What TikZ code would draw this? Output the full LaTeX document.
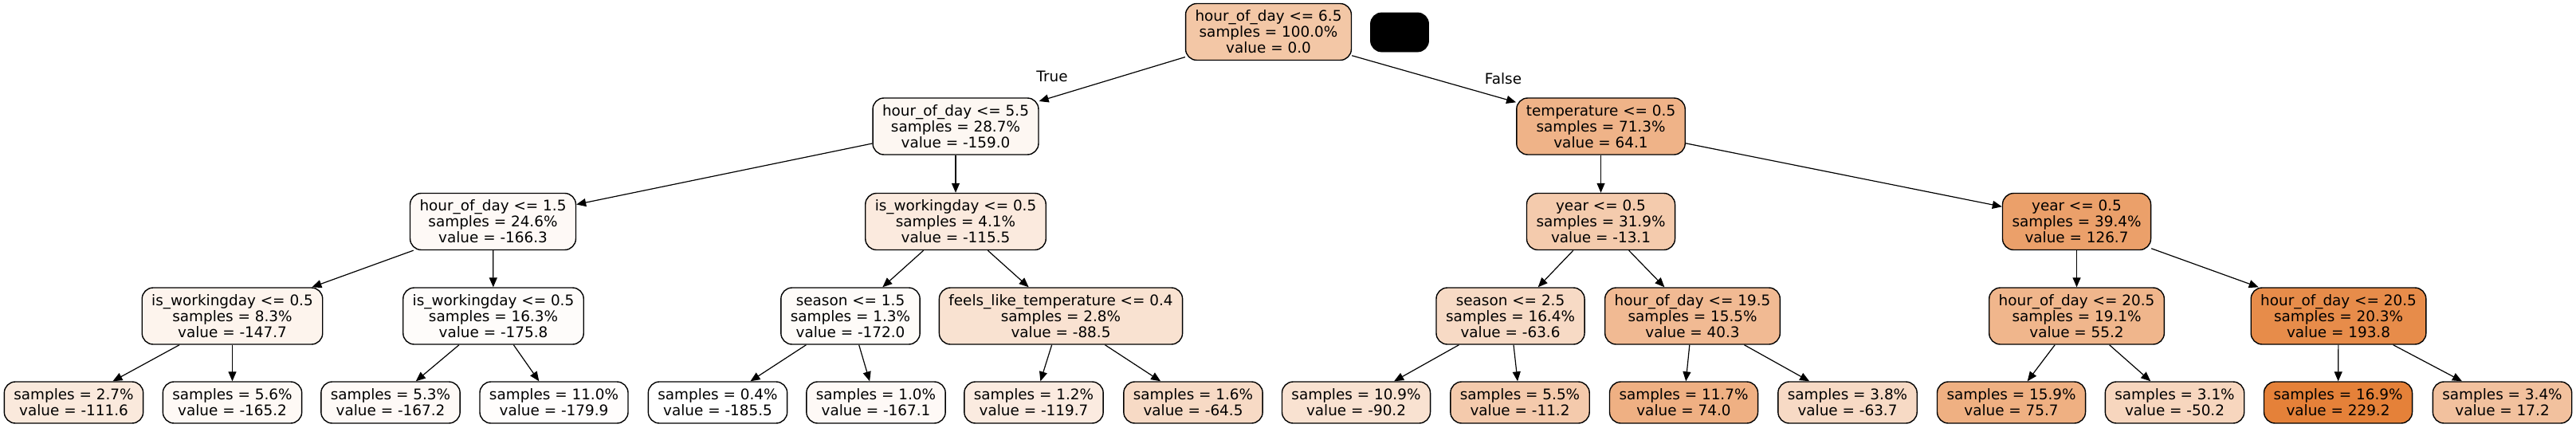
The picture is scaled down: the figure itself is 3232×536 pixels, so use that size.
\documentclass[tikz,border=0pt]{standalone}
\usepackage{fontspec}
\setmainfont{DejaVu Sans}
\usepackage{xcolor}
\usetikzlibrary{arrows.meta}
\definecolor{treeorange}{RGB}{229,129,57}

\begin{document}
\begin{tikzpicture}[
  x=0.5pt, y=-0.5pt,
  split/.style={draw, rounded corners=7pt, align=center, font=\fontsize{9.2pt}{10pt}\selectfont,
    inner xsep=6pt, inner ysep=2pt, minimum height=35.5pt, line width=0.7pt},
  leaf/.style={split, minimum height=26pt},
  arr/.style={-{Triangle[length=6pt,width=5pt]}, line width=0.6pt},
  edgelbl/.style={font=\fontsize{9.2pt}{10pt}\selectfont, inner sep=0pt}
]
\useasboundingbox (0,0) rectangle (3232,536);

% level 0
\node[split, fill=treeorange!44.7!white] (root) at (1591.5,40) {hour\_of\_day <= 6.5\\samples = 100.0\%\\value = 0.0};
\node[draw, fill=black, rounded corners=7pt, minimum width=36.5pt, minimum height=24.5pt, inner sep=0pt] (legend) at (1756,40.5) {};

% level 1
\node[split, fill=treeorange!6.4!white] (h55) at (1199,158.5) {hour\_of\_day <= 5.5\\samples = 28.7\%\\value = -159.0};
\node[split, fill=treeorange!60.2!white] (temp) at (2008.5,158.5) {temperature <= 0.5\\samples = 71.3\%\\value = 64.1};

% level 2
\node[split, fill=treeorange!4.6!white] (h15) at (618.5,278) {hour\_of\_day <= 1.5\\samples = 24.6\%\\value = -166.3};
\node[split, fill=treeorange!16.9!white] (isw41) at (1199,278) {is\_workingday <= 0.5\\samples = 4.1\%\\value = -115.5};
\node[split, fill=treeorange!41.6!white] (yr319) at (2008.5,278) {year <= 0.5\\samples = 31.9\%\\value = -13.1};
\node[split, fill=treeorange!75.3!white] (yr394) at (2605.5,278) {year <= 0.5\\samples = 39.4\%\\value = 126.7};

% level 3
\node[split, fill=treeorange!9.1!white] (isw83) at (291.5,396.5) {is\_workingday <= 0.5\\samples = 8.3\%\\value = -147.7};
\node[split, fill=treeorange!2.3!white] (isw163) at (619,396.5) {is\_workingday <= 0.5\\samples = 16.3\%\\value = -175.8};
\node[split, fill=treeorange!3.3!white] (ssn15) at (1067,396.5) {season <= 1.5\\samples = 1.3\%\\value = -172.0};
\node[split, fill=treeorange!23.4!white] (feels) at (1331,396.5) {feels\_like\_temperature <= 0.4\\samples = 2.8\%\\value = -88.5};
\node[split, fill=treeorange!29.4!white] (ssn25) at (1895,396.5) {season <= 2.5\\samples = 16.4\%\\value = -63.6};
\node[split, fill=treeorange!54.4!white] (h195) at (2123.5,396.5) {hour\_of\_day <= 19.5\\samples = 15.5\%\\value = 40.3};
\node[split, fill=treeorange!58.0!white] (h205a) at (2605.5,396.5) {hour\_of\_day <= 20.5\\samples = 19.1\%\\value = 55.2};
\node[split, fill=treeorange!91.5!white] (h205b) at (2934,396.5) {hour\_of\_day <= 20.5\\samples = 20.3\%\\value = 193.8};

% leaves
\node[leaf, fill=treeorange!17.8!white] (lf1) at (92.5,505) {samples = 2.7\%\\value = -111.6};
\node[leaf, fill=treeorange!4.9!white] (lf2) at (291.5,505) {samples = 5.6\%\\value = -165.2};
\node[leaf, fill=treeorange!4.4!white] (lf3) at (490,505) {samples = 5.3\%\\value = -167.2};
\node[leaf, fill=treeorange!1.4!white] (lf4) at (695,505) {samples = 11.0\%\\value = -179.9};
\node[leaf, fill=white] (lf5) at (900.5,505) {samples = 0.4\%\\value = -185.5};
\node[leaf, fill=treeorange!4.4!white] (lf6) at (1099,505) {samples = 1.0\%\\value = -167.1};
\node[leaf, fill=treeorange!15.9!white] (lf7) at (1297,505) {samples = 1.2\%\\value = -119.7};
\node[leaf, fill=treeorange!29.2!white] (lf8) at (1497,505) {samples = 1.6\%\\value = -64.5};
\node[leaf, fill=treeorange!23.0!white] (lf9) at (1701.5,505) {samples = 10.9\%\\value = -90.2};
\node[leaf, fill=treeorange!42.0!white] (lf10) at (1907,505) {samples = 5.5\%\\value = -11.2};
\node[leaf, fill=treeorange!62.6!white] (lf11) at (2112.5,505) {samples = 11.7\%\\value = 74.0};
\node[leaf, fill=treeorange!29.4!white] (lf12) at (2318,505) {samples = 3.8\%\\value = -63.7};
\node[leaf, fill=treeorange!63.0!white] (lf13) at (2523.5,505) {samples = 15.9\%\\value = 75.7};
\node[leaf, fill=treeorange!32.6!white] (lf14) at (2728.5,505) {samples = 3.1\%\\value = -50.2};
\node[leaf, fill=treeorange] (lf15) at (2933.5,505) {samples = 16.9\%\\value = 229.2};
\node[leaf, fill=treeorange!48.9!white] (lf16) at (3139.5,505) {samples = 3.4\%\\value = 17.2};

% edge labels
\node[edgelbl] (lbltrue) at (1320,96) {True};
\node[edgelbl] (lblfalse) at (1886,99) {False};

% edges
\draw[arr] (root) -- (h55);
\draw[arr] (root) -- (temp);
\draw[arr] (h55) -- (h15);
\draw[arr] (h55) -- (isw41);
\draw[arr] (temp) -- (yr319);
\draw[arr] (temp) -- (yr394);
\draw[arr] (h15) -- (isw83);
\draw[arr] (h15) -- (isw163);
\draw[arr] (isw41) -- (ssn15);
\draw[arr] (isw41) -- (feels);
\draw[arr] (yr319) -- (ssn25);
\draw[arr] (yr319) -- (h195);
\draw[arr] (yr394) -- (h205a);
\draw[arr] (yr394) -- (h205b);
\draw[arr] (isw83) -- (lf1);
\draw[arr] (isw83) -- (lf2);
\draw[arr] (isw163) -- (lf3);
\draw[arr] (isw163) -- (lf4);
\draw[arr] (ssn15) -- (lf5);
\draw[arr] (ssn15) -- (lf6);
\draw[arr] (feels) -- (lf7);
\draw[arr] (feels) -- (lf8);
\draw[arr] (ssn25) -- (lf9);
\draw[arr] (ssn25) -- (lf10);
\draw[arr] (h195) -- (lf11);
\draw[arr] (h195) -- (lf12);
\draw[arr] (h205a) -- (lf13);
\draw[arr] (h205a) -- (lf14);
\draw[arr] (h205b) -- (lf15);
\draw[arr] (h205b) -- (lf16);
\end{tikzpicture}
\end{document}
